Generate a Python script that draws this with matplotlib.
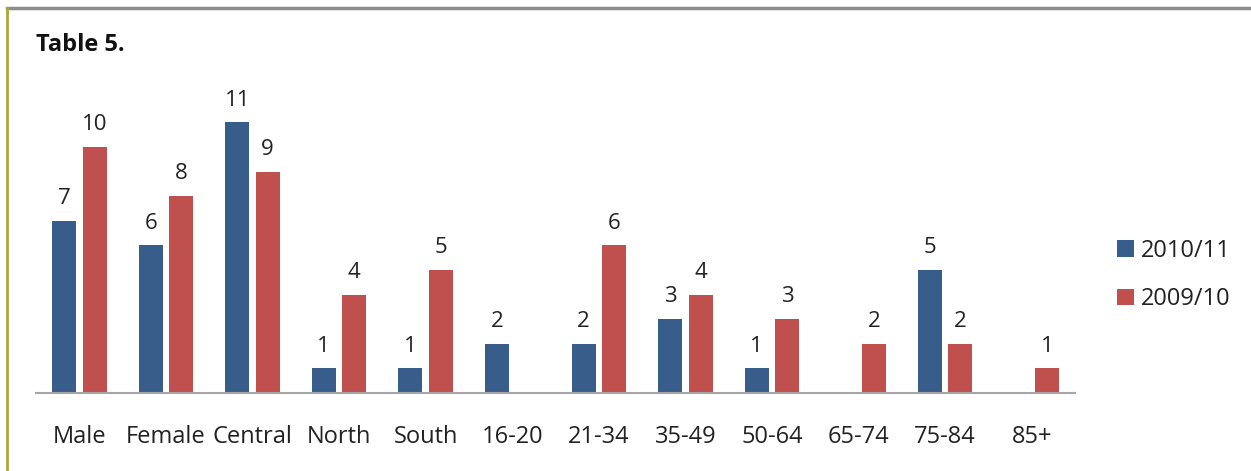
import matplotlib
matplotlib.use("Agg")
import matplotlib.pyplot as plt
import numpy as np
from matplotlib.lines import Line2D

categories = ["Male", "Female", "Central", "North", "South", "16-20", "21-34",
              "35-49", "50-64", "65-74", "75-84", "85+"]
s2010_11 = [7, 6, 11, 1, 1, 2, 2, 3, 1, 0, 5, 0]
s2009_10 = [10, 8, 9, 4, 5, 0, 6, 4, 3, 2, 2, 1]
series_names = ["2010/11", "2009/10"]
title = "Table 5."

plt.rcParams['font.family'] = ['Open Sans', 'DejaVu Sans']
W, H = 1251, 471
fig = plt.figure(figsize=(W / 100, H / 100), dpi=100)

blue = "#385D8A"
red = "#C0504D"

ax = fig.add_axes([36 / W, 78 / H, (1075 - 36) / W, 310 / H])
x = np.arange(len(categories))
bw = 0.277
off = 0.176
b1 = ax.bar(x - off, s2010_11, bw, color=blue, label=series_names[0])
b2 = ax.bar(x + off, s2009_10, bw, color=red, label=series_names[1])
ax.set_xlim(-0.5, len(categories) - 0.5)
ax.set_ylim(0, 12.6)

for bars, vals in ((b1, s2010_11), (b2, s2009_10)):
    for r, v in zip(bars, vals):
        if v:
            ax.annotate(str(v), (r.get_x() + r.get_width() / 2, v),
                        xytext=(0, 8.5), textcoords="offset points",
                        ha="center", va="bottom", fontsize=16, color="#222222")

for s in ["top", "right", "left"]:
    ax.spines[s].set_visible(False)
ax.spines["bottom"].set_color("#A6A6A6")
ax.spines["bottom"].set_linewidth(1.5)
ax.set_yticks([])
ax.set_xticks(x)
ax.set_xticklabels(categories, fontsize=17, color="#222222")
ax.tick_params(axis="x", length=0, pad=23)

fig.text(36 / W, 1 - 45 / H, title, fontsize=17, fontweight="bold",
         ha="left", va="center", color="#111111")

leg = fig.legend(handles=[b1, b2], labels=series_names, loc="center left",
                 bbox_to_anchor=(1096 / W, 1 - 275 / H), frameon=False,
                 fontsize=17, handlelength=0.7, handleheight=0.7,
                 handletextpad=0.3, labelspacing=1.05)
for t in leg.get_texts():
    t.set_color("#222222")

# frame lines
fig.add_artist(Line2D([7 / W, 1], [1 - 8 / H, 1 - 8 / H], color="#8C8C8C", lw=2.5,
                      transform=fig.transFigure))
fig.add_artist(Line2D([7 / W, 7 / W], [0, 1 - 8 / H], color="#A8A838", lw=2,
                      transform=fig.transFigure))

fig.savefig("out.png", dpi=100, facecolor="white")
